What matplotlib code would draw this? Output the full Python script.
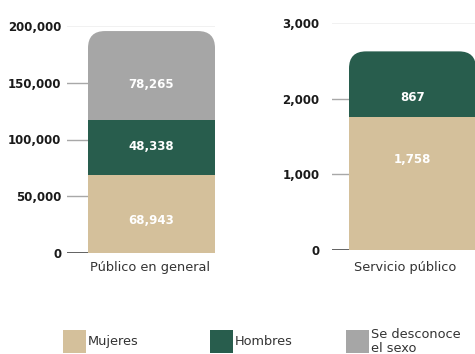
import matplotlib
matplotlib.use("Agg")
import matplotlib.pyplot as plt
from matplotlib.patches import FancyBboxPatch, Rectangle
from matplotlib.transforms import IdentityTransform

# ---- data ----
series_names = ["Mujeres", "Hombres", "Se desconoce\nel sexo"]
series_colors = ["#D4C09B", "#285D4D", "#A6A6A6"]

left_category = "Público en general"
left_values = [68943, 48338, 78265]
left_ticks = [0, 50000, 100000, 150000, 200000]

right_category = "Servicio público"
right_values = [1758, 867]
right_ticks = [0, 1000, 2000, 3000]

# where each value label sits inside its segment (fraction from segment bottom)
left_label_frac = [0.42, 0.51, 0.40]
right_label_frac = [0.68, 0.30]

W, H = 475, 354
DPI = 100
fig = plt.figure(figsize=(W / DPI, H / DPI), dpi=DPI)
fig.patch.set_facecolor("white")

FONT = "DejaVu Sans"
TICK_COLOR = "#1a1a1a"


def px_axes(x0, x1, y_top, y_bot):
    return fig.add_axes([x0 / W, 1 - y_bot / H, (x1 - x0) / W, (y_bot - y_top) / H])


def draw_panel(ax, category, values, ticks, ymax, label_frac, gap_px, ax_w_px,
               bar_w_px, pad, cat_x_px):
    bar_w = 1.0
    left_lim = -0.5 - gap_px / bar_w_px
    right_lim = left_lim + ax_w_px / bar_w_px
    ax.set_xlim(left_lim, right_lim)
    ax.set_ylim(0, ymax)
    for s in ax.spines.values():
        s.set_visible(False)

    # gridlines (behind bars)
    for t in ticks:
        if t == 0:
            ax.axhline(t, color="#555555", lw=1.3, zorder=1)
        elif t == ticks[-1]:
            ax.axhline(t, color="#EFEFEF", lw=1.2, zorder=1)
        else:
            ax.axhline(t, color="#A8A8A8", lw=1.0, zorder=1)

    bottom = 0
    rects = []
    for i, v in enumerate(values):
        r = ax.bar(0, v, bottom=bottom, width=bar_w, color=series_colors[i],
                   edgecolor="none", zorder=2)[0]
        rects.append(r)
        ypos = bottom + v * label_frac[i]
        ax.text(0, ypos, f"{v:,}", ha="center", va="center", color="white",
                fontsize=8.5, fontweight="bold", family=FONT, zorder=4)
        bottom += v

    # round the top corners of the stack
    top = rects[-1]
    (x0, y0) = ax.transData.transform((top.get_x(), top.get_y()))
    (x1, y1) = ax.transData.transform((top.get_x() + top.get_width(),
                                       top.get_y() + top.get_height()))
    clip = FancyBboxPatch((x0, y0 - 40), x1 - x0, (y1 - y0) + 40,
                          boxstyle="round,pad=0,rounding_size=17",
                          transform=IdentityTransform(), facecolor="none",
                          edgecolor="none")
    top.set_clip_path(clip)

    ax.set_yticks(ticks)
    ax.set_yticklabels([f"{t:,}" for t in ticks], fontsize=8.5,
                       fontweight="bold", color=TICK_COLOR, family=FONT)
    ax.tick_params(axis="y", length=0, pad=pad)
    ax.set_xticks([])

    # category label under the bar
    fig.text(cat_x_px / W, 1 - 268 / H, category, ha="center", va="center",
             fontsize=9.3, color="#333333", family=FONT)


# left panel: axis from x=67 to 215, bar from 88 to 215
axL = px_axes(67, 215, 26, 253)
draw_panel(axL, left_category, left_values, left_ticks, 200000,
           left_label_frac, gap_px=21, ax_w_px=148, bar_w_px=127, pad=4,
           cat_x_px=150)

# right panel: axis from x=332, bar from 349 to 476
axR = px_axes(332, 476, 23, 250)
draw_panel(axR, right_category, right_values, right_ticks, 3000,
           right_label_frac, gap_px=17, ax_w_px=144, bar_w_px=127, pad=9,
           cat_x_px=405)

# legend drawn as squares + text in figure pixels
legend_x = [63, 210, 346]
for i, name in enumerate(series_names):
    x = legend_x[i]
    fig.patches.append(Rectangle((x / W, 1 - 353 / H), 23 / W, 23 / H,
                                 transform=fig.transFigure,
                                 facecolor=series_colors[i], edgecolor="none"))
    fig.text((x + 25) / W, 1 - 341.5 / H, name, ha="left", va="center",
             fontsize=9.3, color="#333333", family=FONT, linespacing=1.15)

fig.savefig("out.png", dpi=DPI)
